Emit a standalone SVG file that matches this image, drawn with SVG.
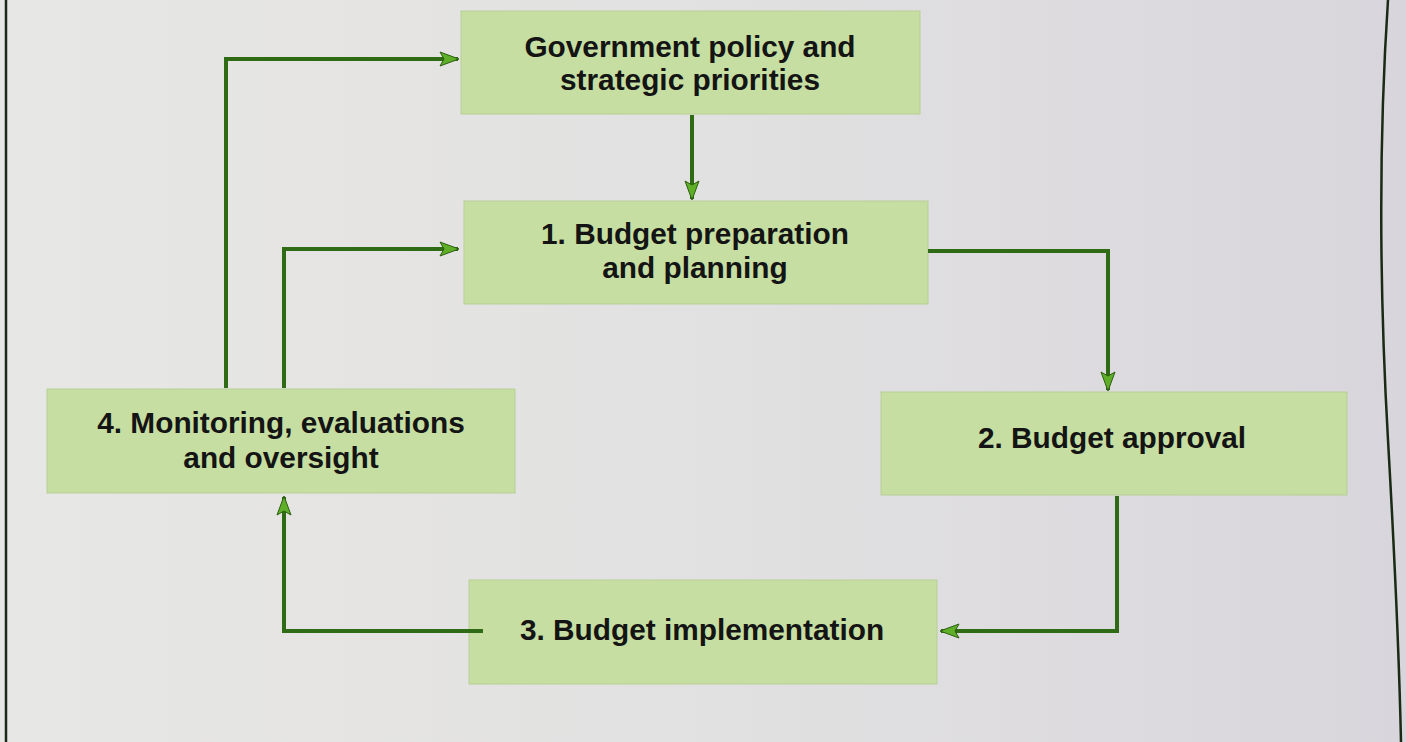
<svg xmlns="http://www.w3.org/2000/svg" width="1406" height="742" viewBox="0 0 1406 742">
  <defs>
    <linearGradient id="bg" x1="0" y1="0" x2="1" y2="0">
      <stop offset="0" stop-color="#e7e7e5"/>
      <stop offset="0.5" stop-color="#e2e1e1"/>
      <stop offset="1" stop-color="#d8d6dc"/>
    </linearGradient>
    <marker id="arr" markerUnits="userSpaceOnUse" markerWidth="22" markerHeight="16" refX="19" refY="8" orient="auto" viewBox="0 0 22 16">
      <path d="M1,1 L20,8 L1,15 L5,8 Z" fill="#5fae28" stroke="#2c5e10" stroke-width="1"/>
    </marker>
    <style>
      .box { fill: #c6dea2; stroke: #b8cf95; stroke-width: 1; }
      .lbl { font-family: "Liberation Sans", Arial, sans-serif; font-weight: bold; font-size: 29.8px; fill: #141414; text-anchor: middle; }
      .con { fill: none; stroke: #2f6a14; stroke-width: 4; stroke-linejoin: miter; }
      .frame { fill: none; stroke: #1a2a14; stroke-width: 2.5; }
    </style>
  </defs>
  <rect x="0" y="0" width="1406" height="742" fill="url(#bg)"/>
  <line class="frame" x1="6" y1="0" x2="6" y2="742"/>
  <path class="frame" d="M1388,0 C1378,150 1380,300 1388,440 S1399,650 1401,742"/>

  <g id="gov">
    <rect class="box" x="461" y="11" width="459" height="103"/>
    <text class="lbl" x="690" y="57">Government policy and</text>
    <text class="lbl" x="690" y="90">strategic priorities</text>
  </g>
  <g id="step1">
    <rect class="box" x="464" y="201" width="464" height="103"/>
    <text class="lbl" x="695" y="244">1. Budget preparation</text>
    <text class="lbl" x="695" y="278">and planning</text>
  </g>
  <g id="step2">
    <rect class="box" x="881" y="392" width="466" height="103"/>
    <text class="lbl" x="1112" y="448">2. Budget approval</text>
  </g>
  <g id="step3">
    <rect class="box" x="469" y="580" width="468" height="104"/>
    <text class="lbl" x="702" y="640">3. Budget implementation</text>
  </g>
  <g id="step4">
    <rect class="box" x="47" y="389" width="468" height="104"/>
    <text class="lbl" x="281" y="433">4. Monitoring, evaluations</text>
    <text class="lbl" x="281" y="468">and oversight</text>
  </g>

  <g id="connectors">
    <path class="con" d="M692,115 L692,199" marker-end="url(#arr)"/>
    <path class="con" d="M928,251 L1108,251 L1108,390" marker-end="url(#arr)"/>
    <path class="con" d="M1117,496 L1117,631 L941,631" marker-end="url(#arr)"/>
    <path class="con" d="M483,631 L284,631 L284,497" marker-end="url(#arr)"/>
    <path class="con" d="M226,388 L226,59 L458,59" marker-end="url(#arr)"/>
    <path class="con" d="M284,388 L284,249 L458,249" marker-end="url(#arr)"/>
  </g>
</svg>
